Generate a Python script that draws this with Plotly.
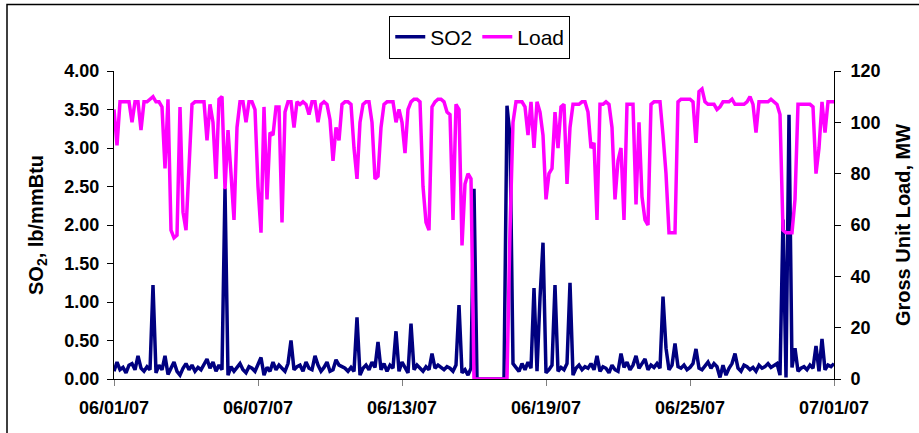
import pandas as pd
import plotly.graph_objects as go

# 3-hourly readings starting 06/01/07 00:00
start_time = "2007-06-01"
step = "3h"

so2_lb_mmbtu = [
    0.10, 0.22, 0.12, 0.15, 0.08, 0.18, 0.20, 0.12,
    0.30, 0.14, 0.10, 0.16, 0.12, 1.22, 0.08, 0.18,
    0.12, 0.30, 0.06, 0.15, 0.22, 0.10, 0.05, 0.14,
    0.20, 0.12, 0.18, 0.10, 0.15, 0.12, 0.20, 0.26,
    0.14, 0.22, 0.10, 0.18, 0.12, 2.48, 0.05, 0.16,
    0.10, 0.15, 0.20, 0.12, 0.08, 0.16, 0.14, 0.10,
    0.18, 0.28, 0.05, 0.15, 0.10, 0.22, 0.12, 0.18,
    0.14, 0.10, 0.20, 0.50, 0.12, 0.16, 0.18, 0.10,
    0.22, 0.14, 0.12, 0.30, 0.18, 0.10, 0.15, 0.22,
    0.10, 0.12, 0.25, 0.18, 0.16, 0.14, 0.10, 0.15,
    0.10, 0.80, 0.05, 0.14, 0.18, 0.12, 0.22, 0.15,
    0.48, 0.12, 0.20, 0.10, 0.18, 0.14, 0.62, 0.10,
    0.22, 0.15, 0.08, 0.72, 0.12, 0.18, 0.14, 0.10,
    0.16, 0.12, 0.33, 0.14, 0.18, 0.15, 0.12, 0.16,
    0.14, 0.10, 0.18, 0.96, 0.08, 0.12, 0.05, 0.14,
    2.47, 0.00, 0.00, 0.00, 0.00, 0.00, 0.00, 0.00,
    0.00, 0.00, 0.00, 3.55, 3.15, 0.20, 0.15, 0.10,
    0.20, 0.12, 0.22, 0.14, 1.18, 0.10, 1.05, 1.77,
    0.08, 0.12, 0.18, 1.22, 0.10, 0.15, 0.12, 0.20,
    1.25, 0.05, 0.14, 0.18, 0.12, 0.16, 0.14, 0.20,
    0.12, 0.30, 0.10, 0.16, 0.14, 0.08, 0.18, 0.12,
    0.10, 0.33, 0.15, 0.22, 0.12, 0.18, 0.30, 0.14,
    0.20, 0.26, 0.12, 0.18, 0.15, 0.20, 0.14, 1.07,
    0.40, 0.12, 0.18, 0.46, 0.16, 0.14, 0.18, 0.12,
    0.15, 0.20, 0.39, 0.14, 0.12, 0.18, 0.22, 0.14,
    0.20, 0.16, 0.02, 0.18, 0.05, 0.14, 0.20, 0.33,
    0.14, 0.10, 0.18, 0.16, 0.12, 0.15, 0.10, 0.18,
    0.14, 0.16, 0.20, 0.15, 0.18, 0.20, 0.05, 2.07,
    0.02, 3.43, 0.15, 0.40, 0.10, 0.14, 0.16, 0.12,
    0.18, 0.14, 0.43, 0.10, 0.52, 0.12, 0.18, 0.16,
    0.20,
]

load_mw = [
    105, 91, 108, 108, 108, 108, 100, 108,
    108, 97, 108, 108, 109, 110, 108, 108,
    106, 82, 109, 58, 55, 56, 106, 65,
    58, 85, 107, 108, 108, 108, 108, 93,
    107, 100, 78, 109, 110, 74, 97, 80,
    62, 98, 108, 108, 100, 108, 108, 105,
    75, 57, 106, 70, 96, 95, 106, 106,
    61, 104, 108, 108, 98, 108, 107, 108,
    107, 103, 108, 108, 100, 107, 108, 107,
    101, 85, 98, 93, 107, 108, 108, 107,
    90, 78, 100, 107, 108, 108, 100, 78,
    79, 98, 107, 108, 108, 108, 100, 105,
    100, 88, 105, 108, 109, 109, 108, 75,
    61, 58, 106, 108, 109, 109, 108, 104,
    103, 62, 107, 105, 52, 76, 80, 78,
    0, 0, 0, 0, 0, 0, 0, 0,
    0, 0, 0, 0, 58, 100, 108, 108,
    108, 106, 95, 108, 90, 108, 104, 95,
    70, 80, 82, 104, 90, 106, 107, 76,
    98, 107, 107, 107, 108, 108, 104, 90,
    92, 62, 107, 107, 108, 107, 98, 70,
    85, 90, 62, 107, 107, 107, 68, 100,
    71, 62, 60, 107, 108, 108, 108, 95,
    80, 57, 57, 57, 108, 109, 109, 109,
    109, 108, 92, 112, 113, 108, 107, 107,
    107, 105, 106, 108, 108, 108, 109, 107,
    107, 107, 107, 108, 110, 107, 96, 108,
    108, 108, 108, 109, 108, 107, 103, 58,
    57, 57, 57, 70, 107, 107, 107, 107,
    107, 106, 80, 90, 108, 96, 108, 108,
    108,
]

x_ticks = ["2007-06-01", "2007-06-07", "2007-06-13", "2007-06-19", "2007-06-25", "2007-07-01"]
x_tick_text = ["06/01/07", "06/07/07", "06/13/07", "06/19/07", "06/25/07", "07/01/07"]

times = pd.date_range(start_time, periods=len(so2_lb_mmbtu), freq=step)

FONT = "Liberation Sans, Arial, sans-serif"
TICKFONT = dict(size=18, family=FONT, color="black", weight="bold")
TITLEFONT = dict(size=20, family=FONT, color="black", weight="bold")

fig = go.Figure()
fig.add_trace(go.Scatter(x=times, y=so2_lb_mmbtu, mode="lines", name="SO2",
                         line=dict(color="#000080", width=3.5)))
fig.add_trace(go.Scatter(x=times, y=load_mw, mode="lines", name="Load", yaxis="y2",
                         line=dict(color="#FF00FF", width=3.5)))

fig.update_layout(
    width=919, height=433,
    margin=dict(l=114, r=85, t=71, b=54, autoexpand=False),
    paper_bgcolor="white", plot_bgcolor="white",
    font=dict(family=FONT, color="black"),
    showlegend=True,
    legend=dict(orientation="h", x=0.508, xanchor="center", y=1.18, yanchor="top",
                bordercolor="black", borderwidth=1, bgcolor="white",
                font=dict(size=21, family=FONT), itemwidth=30,
                tracegroupgap=0),
    xaxis=dict(type="date", range=["2007-06-01", "2007-07-01"],
               tickvals=x_ticks, ticktext=x_tick_text,
               showline=True, linecolor="black", linewidth=1,
               ticks="outside", ticklen=6, tickcolor="#808080",
               ticklabelstandoff=6, automargin=False,
               showgrid=False, zeroline=False,
               tickfont=TICKFONT),
    yaxis=dict(range=[0, 4], dtick=0.5, tickformat=".2f",
               showline=True, linecolor="black", linewidth=1,
               ticks="outside", ticklen=6, tickcolor="black",
               ticklabelstandoff=4, automargin=False,
               showgrid=False, zeroline=False,
               tickfont=TICKFONT,
               title=dict(text="SO<sub>2</sub>, lb/mmBtu", standoff=15,
                          font=TITLEFONT)),
    yaxis2=dict(range=[0, 120], dtick=20, overlaying="y", side="right",
                showline=True, linecolor="black", linewidth=1,
                ticks="outside", ticklen=6, tickcolor="black",
                ticklabelstandoff=6, automargin=False,
                showgrid=False, zeroline=False,
                tickfont=TICKFONT,
                title=dict(text="Gross Unit Load, MW", standoff=16,
                           font=TITLEFONT)),
    shapes=[dict(type="rect", xref="paper", yref="paper",
                 x0=(7 - 114) / 720, x1=1.2, y0=-0.3, y1=(379 - 4.5) / 308,
                 line=dict(color="black", width=1.5), fillcolor="rgba(0,0,0,0)",
                 layer="below")],
)

fig.write_html("out.html")
